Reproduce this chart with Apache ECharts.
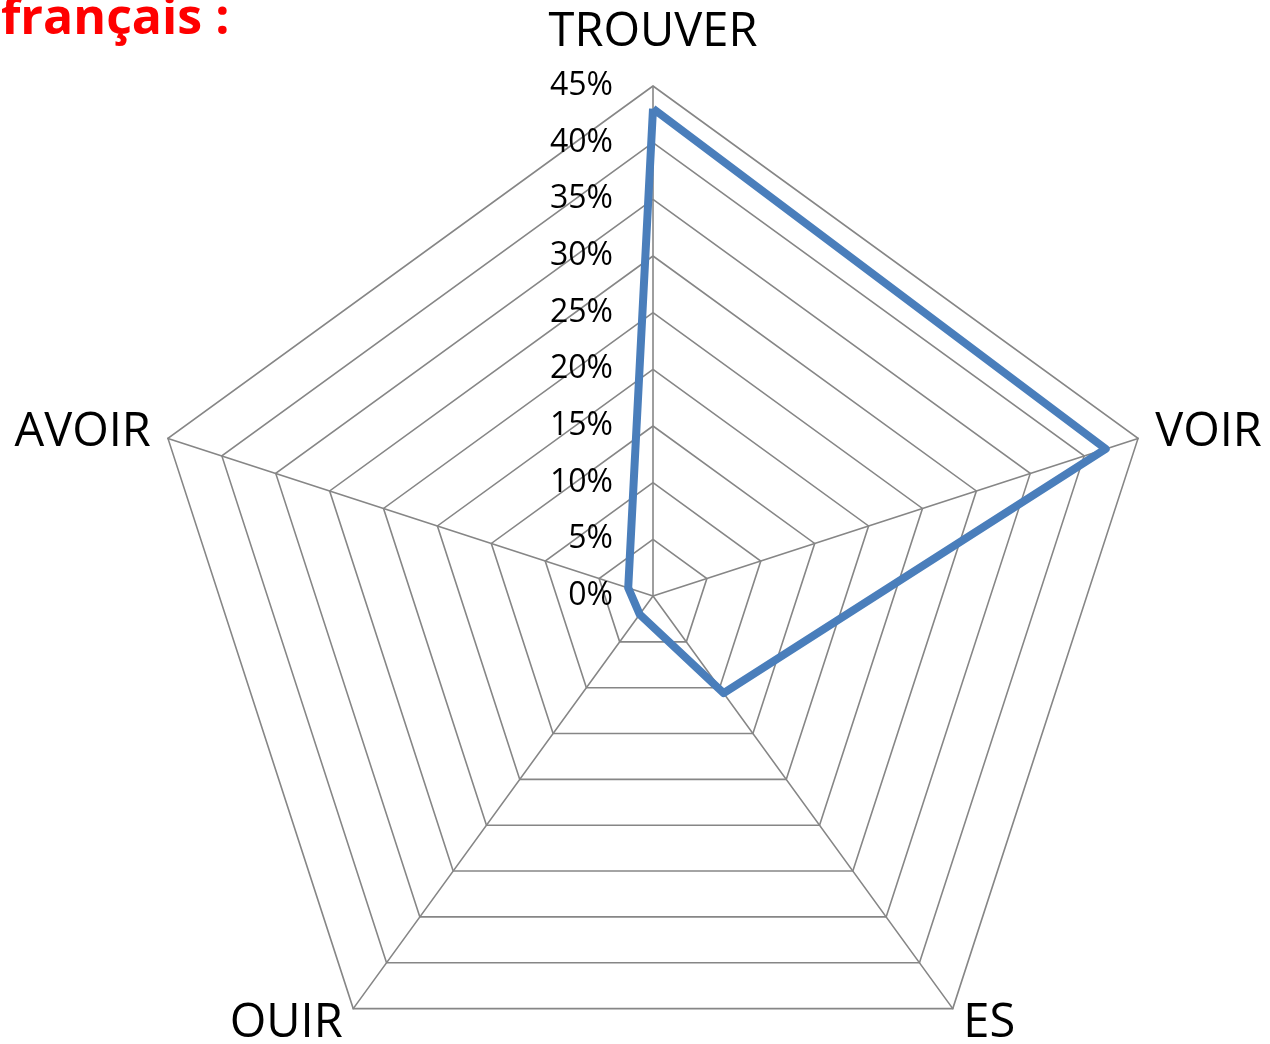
<!DOCTYPE html>
<html><head><meta charset="utf-8">
<script src="https://cdn.jsdelivr.net/npm/echarts@6/dist/echarts.min.js"></script>
<style>html,body{margin:0;padding:0;background:#fff}#c{width:1270px;height:1044px}</style>
</head><body><div id="c"></div>
<script>
// categories in clockwise reading order (top first)
const categories = ['TROUVER', 'VOIR', 'ES', 'OUIR', 'AVOIR'];
const values = [43, 42, 10.6, 2.0, 2.3];
const tickLabels = ['0%','5%','10%','15%','20%','25%','30%','35%','40%','45%'];
const maxVal = 45;
const step = 5;

// ECharts radar runs counter-clockwise; reorder so picture reads clockwise
const order = [0, 4, 3, 2, 1];
const indicator = order.map(i => ({ name: categories[i], max: maxVal, min: 0 }));
const seriesValues = order.map(i => values[i]);

const cx = 653, cy = 596, r = 510;
const chart = echarts.init(document.getElementById('c'));
chart.setOption({
  animation: false,
  title: {
    text: 'français :',
    left: -4, top: -10,
    textStyle: { color: '#ff0000', fontSize: 50, fontWeight: 'bold', fontFamily: 'Open Sans' }
  },
  radar: {
    center: [cx, cy],
    radius: r,
    startAngle: 90,
    shape: 'polygon',
    splitNumber: maxVal / step,
    indicator: indicator,
    nameGap: 18,
    axisName: {
      color: '#000', fontSize: 47, fontFamily: 'Open Sans',
      formatter: (name) => name === categories[0] ? '{t|' + name + '}' : name,
      rich: { t: { fontSize: 47, fontFamily: 'Open Sans', color: '#000', padding: [0, 0, 12, 0] } }
    },
    axisLine: { lineStyle: { color: '#868686', width: 1.6 } },
    splitLine: { lineStyle: { color: '#868686', width: 1.6 } },
    splitArea: { show: false },
    axisTick: { show: false },
    axisLabel: { show: false }
  },
  grid: { left: cx, top: cy - r, width: 1, height: r },
  xAxis: { type: 'value', show: false },
  yAxis: {
    type: 'value', min: 0, max: maxVal, interval: step,
    axisLine: { show: false }, axisTick: { show: false }, splitLine: { show: false },
    axisLabel: {
      margin: 40, color: '#000', fontSize: 32, fontFamily: 'Open Sans',
      formatter: (v) => tickLabels[Math.round(v / step)]
    }
  },
  series: [{
    type: 'radar',
    symbol: 'none',
    lineStyle: { color: '#4a7ebb', width: 8, join: 'round' },
    data: [{ value: seriesValues }]
  }]
});
</script></body></html>
